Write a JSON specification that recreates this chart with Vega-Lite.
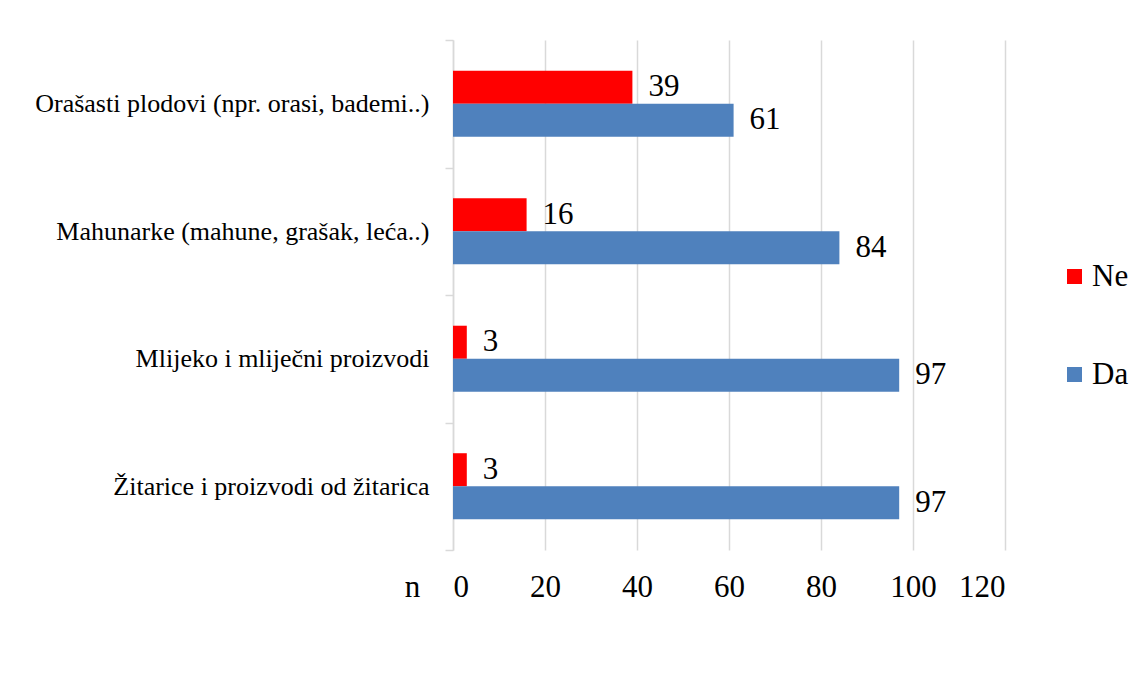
{
  "$schema": "https://vega.github.io/schema/vega-lite/v6.json",
  "width": 552,
  "height": 510,
  "autosize": {"type": "none"},
  "padding": {"left": 453, "top": 40, "right": 143, "bottom": 87},
  "background": "white",
  "config": {
    "view": {"stroke": null},
    "font": "Liberation Serif",
    "text": {"font": "Liberation Serif"},
    "legend": {"labelFont": "Liberation Serif"},
    "axis": {"labelFont": "Liberation Serif", "titleFont": "Liberation Serif"}
  },
  "data": {
    "values": [
      {"kategorija": "Orašasti plodovi (npr. orasi, bademi..)", "odgovor": "Ne", "n": 39},
      {"kategorija": "Orašasti plodovi (npr. orasi, bademi..)", "odgovor": "Da", "n": 61},
      {"kategorija": "Mahunarke (mahune, grašak, leća..)", "odgovor": "Ne", "n": 16},
      {"kategorija": "Mahunarke (mahune, grašak, leća..)", "odgovor": "Da", "n": 84},
      {"kategorija": "Mlijeko i mliječni proizvodi", "odgovor": "Ne", "n": 3},
      {"kategorija": "Mlijeko i mliječni proizvodi", "odgovor": "Da", "n": 97},
      {"kategorija": "Žitarice i proizvodi od žitarica", "odgovor": "Ne", "n": 3},
      {"kategorija": "Žitarice i proizvodi od žitarica", "odgovor": "Da", "n": 97}
    ]
  },
  "encoding": {
    "y": {
      "field": "kategorija",
      "type": "nominal",
      "sort": null,
      "scale": {"paddingInner": 0, "paddingOuter": 0},
      "axis": {
        "title": null,
        "labelFont": "Liberation Serif",
        "labelFontSize": 26,
        "labelColor": "#000000",
        "labelPadding": 16,
        "labelLimit": 500,
        "domainColor": "#d9d9d9",
        "domainWidth": 1.5,
        "tickColor": "#d9d9d9",
        "tickWidth": 1.5,
        "tickSize": 8,
        "tickBand": "extent"
      }
    },
    "yOffset": {
      "field": "odgovor",
      "type": "nominal",
      "sort": ["Ne", "Da"],
      "scale": {"paddingInner": 0, "paddingOuter": 0.93}
    },
    "x": {
      "field": "n",
      "type": "quantitative",
      "scale": {"domain": [0, 120], "nice": false},
      "axis": {
        "values": [0, 20, 40, 60, 80, 100, 120],
        "title": "n",
        "titleFont": "Liberation Serif",
        "titleFontSize": 31,
        "titleFontWeight": "normal",
        "titleColor": "#000000",
        "titleAngle": 0,
        "titleX": -41,
        "titleY": 37,
        "titleBaseline": "middle",
        "titleAlign": "center",
        "labelFont": "Liberation Serif",
        "labelFontSize": 31,
        "labelColor": "#000000",
        "labelBaseline": "middle",
        "labelPadding": 37,
        "domain": false,
        "ticks": false,
        "grid": true,
        "gridColor": "#d9d9d9",
        "gridWidth": 1.5
      }
    }
  },
  "layer": [
    {
      "mark": {"type": "bar"},
      "encoding": {
        "color": {
          "field": "odgovor",
          "type": "nominal",
          "scale": {"domain": ["Ne", "Da"], "range": ["#ff0000", "#4f81bd"]},
          "legend": {
            "title": null,
            "orient": "none",
            "legendX": 606,
            "legendY": 221,
            "symbolType": "square",
            "symbolSize": 225,
            "symbolStrokeWidth": 0,
            "labelFont": "Liberation Serif",
            "labelFontSize": 31,
            "labelColor": "#000000",
            "labelOffset": 2,
            "rowPadding": 66
          }
        }
      }
    },
    {
      "mark": {"type": "text", "align": "left", "baseline": "middle", "dx": 16, "font": "Liberation Serif", "fontSize": 31, "color": "#000000"},
      "encoding": {
        "text": {"field": "n", "type": "quantitative"}
      }
    }
  ]
}
